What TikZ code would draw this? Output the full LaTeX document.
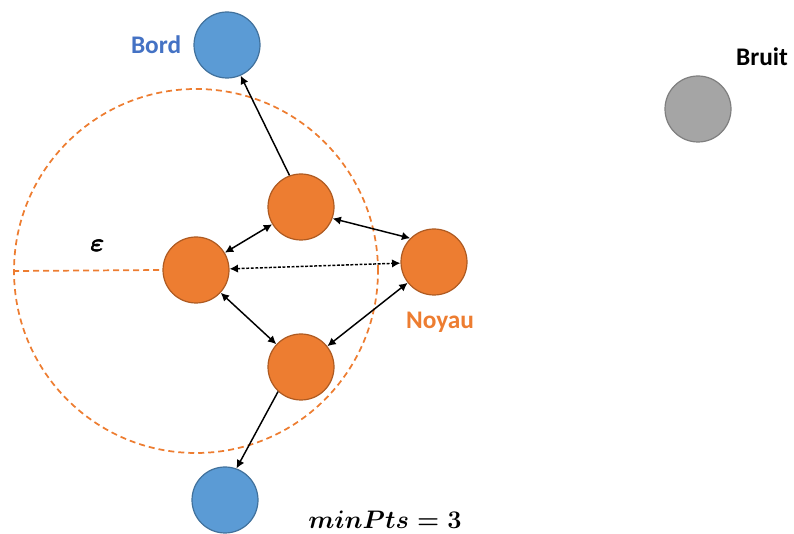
\RequirePackage{fix-cm}
\documentclass[tikz,border=0pt]{standalone}
\usepackage{amsmath}
\usepackage[no-math]{fontspec}
\setmainfont{Carlito}
\usetikzlibrary{positioning,arrows.meta}
\definecolor{bordblue}{HTML}{5B9BD5}
\definecolor{bordline}{HTML}{41719C}
\definecolor{bordtext}{HTML}{4472C4}
\definecolor{noyauorange}{HTML}{ED7D31}
\definecolor{noyauline}{HTML}{AE5A21}
\definecolor{bruitgray}{HTML}{A5A5A5}
\definecolor{bruitline}{HTML}{7F7F7F}
\tikzset{
  ptarr/.style={-{Latex[length=2.2mm,width=2.2mm]},line width=1.1pt},
  ptbiarr/.style={{Latex[length=2.2mm,width=2.2mm]}-{Latex[length=2.2mm,width=2.2mm]},line width=1.1pt},
  ptdotarr/.style={ptbiarr,dash pattern=on 2.2pt off 1.2pt},
  zonestyle/.style={draw=noyauorange,line width=1.3pt,dash pattern=on 4.5pt off 3pt},
  pt/.style={circle,minimum size=49.5pt,inner sep=0pt,line width=0.9pt},
  noyau/.style={pt,fill=noyauorange,draw=noyauline},
  bord/.style={pt,fill=bordblue,draw=bordline},
  bruit/.style={pt,fill=bruitgray,draw=bruitline},
  lbl/.style={inner sep=0pt,font=\fontsize{19}{23}\selectfont\bfseries}
}
\begin{document}
\begin{tikzpicture}[x=0.75pt,y=-0.75pt]
\useasboundingbox (0,0) rectangle (794,534);
% voisinage epsilon
\node[circle,minimum size=273pt,inner sep=0pt,zonestyle] (zone) at (196,271) {};

% points
\node[noyau] (ph) at (301,207) {};
\node[noyau] (pl) at (196,270) {};
\node[noyau] (pr) at (434,262) {};
\node[noyau] (pb) at (301,367) {};
\node[bord]  (bh) at (227,45)  {};
\node[bord]  (bb) at (225,500) {};
\node[bruit] (br) at (698,109) {};

% labels
\node[lbl, text=bordtext, left=9pt of bh] {Bord};
\node[lbl, text=noyauorange] (ny) at (440,322) {Noyau};
\node[lbl] (bt) at (762,57) {Bruit};
\node[lbl] (eps) at (98,246) {$\pmb{\boldsymbol{\varepsilon}}$};
\node[lbl] (mp) at (385,520) {$\boldsymbol{minPts=3}$};

% rayon
\draw[zonestyle] (zone.west) -- (pl.west);

% liaisons
\draw[ptarr]   (ph.110) -- (bh.-66);
\draw[ptbiarr] (ph) -- (pl);
\draw[ptbiarr] (ph.-20) -- (pr.135);
\draw[ptdotarr] (pl) -- (pr);
\draw[ptbiarr] (pl) -- (pb);
\draw[ptbiarr] (pr) -- (pb);
\draw[ptarr]   (pb.227) -- (bb.70);
\end{tikzpicture}
\end{document}
